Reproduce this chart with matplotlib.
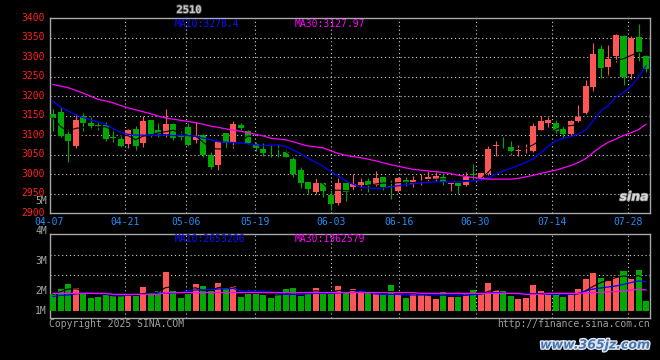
import numpy as np
import pandas as pd
import matplotlib
matplotlib.use("Agg")
import matplotlib.pyplot as plt
import matplotlib.patheffects as pe
from matplotlib.transforms import blended_transform_factory, ScaledTranslation

# ---------------- data ----------------
title = "2510"
opens = [3154, 3160, 3103, 3073, 3148, 3132, 3126, 3126, 3093, 3089,
         3077, 3117, 3079, 3139, 3113, 3103, 3128, 3100, 3121, 3087,
         3100, 3050, 3022, 3106, 3083, 3127, 3111, 3078, 3064, 3062,
         3062, 3057, 3039, 3010, 2980, 2955, 2976, 2946, 2925, 2976,
         2966, 2972, 2983, 2972, 2992, 2969, 2956, 2985, 2974, 2981,
         2987, 2987, 2993, 2975, 2976, 2972, 2999, 2989, 3000, 3073,
         3073, 3069, 3058, 3061, 3058, 3113, 3132, 3132, 3115, 3103,
         3135, 3158, 3224, 3321, 3276, 3304, 3355, 3256, 3353, 3303]
highs = [3167, 3173, 3116, 3154, 3156, 3147, 3133, 3133, 3117, 3097,
         3117, 3123, 3149, 3139, 3130, 3167, 3130, 3110, 3132, 3133,
         3104, 3056, 3083, 3106, 3135, 3132, 3113, 3083, 3079, 3075,
         3075, 3062, 3045, 3019, 2980, 2991, 2978, 2959, 2989, 2978,
         2999, 2989, 2989, 3008, 2993, 2985, 2993, 2993, 2995, 2999,
         3008, 3006, 3003, 2978, 2978, 3006, 3025, 3004, 3072, 3085,
         3096, 3085, 3075, 3076, 3132, 3149, 3147, 3139, 3123, 3138,
         3177, 3241, 3336, 3331, 3331, 3360, 3358, 3354, 3385, 3305]
lows = [3111, 3094, 3032, 3066, 3110, 3117, 3113, 3086, 3083, 3070,
        3067, 3063, 3070, 3094, 3096, 3096, 3088, 3088, 3072, 3080,
        3044, 3013, 3010, 3066, 3066, 3112, 3076, 3060, 3047, 3045,
        3045, 3045, 2993, 2965, 2948, 2950, 2942, 2907, 2921, 2931,
        2959, 2959, 2955, 2969, 2960, 2936, 2953, 2970, 2968, 2972,
        2982, 2982, 2972, 2956, 2950, 2969, 2985, 2985, 2998, 3047,
        3067, 3049, 3047, 3053, 3056, 3112, 3122, 3105, 3093, 3100,
        3133, 3154, 3213, 3246, 3248, 3289, 3229, 3245, 3291, 3263]
closes = [3145, 3099, 3086, 3139, 3130, 3124, 3124, 3090, 3092, 3073,
          3113, 3073, 3136, 3104, 3103, 3128, 3093, 3096, 3075, 3096,
          3049, 3018, 3083, 3079, 3128, 3118, 3080, 3068, 3055, 3061,
          3061, 3045, 3001, 2977, 2961, 2976, 2957, 2922, 2976, 2955,
          2974, 2980, 2972, 2991, 2968, 2968, 2991, 2978, 2985, 2983,
          2993, 2996, 2980, 2977, 2970, 2993, 2997, 3002, 3064, 3075,
          3071, 3060, 3061, 3063, 3123, 3135, 3139, 3111, 3103, 3135,
          3147, 3226, 3308, 3273, 3295, 3357, 3248, 3350, 3314, 3270]
ma10 = [3188, 3172, 3162, 3152, 3145, 3139, 3134, 3128, 3117, 3107,
        3102, 3100, 3100, 3100, 3100, 3100, 3099, 3099, 3099, 3097,
        3092, 3088, 3083, 3082, 3081, 3080, 3078, 3075, 3073, 3074,
        3075, 3071, 3062, 3052, 3040, 3030, 3020, 3006, 2995, 2982,
        2974, 2966, 2964, 2963, 2964, 2967, 2970, 2973, 2975, 2977,
        2979, 2980, 2980, 2980, 2980, 2981, 2983, 2985, 2990, 3000,
        3008, 3015, 3022, 3030, 3040, 3055, 3072, 3085, 3092, 3096,
        3103, 3114, 3138, 3163, 3176, 3198, 3210, 3225, 3250, 3278]
ma30 = [3230, 3226, 3222, 3215, 3208, 3200, 3192, 3188, 3183, 3176,
        3170, 3165, 3160, 3155, 3149, 3144, 3141, 3138, 3135, 3132,
        3128, 3123, 3120, 3116, 3113, 3110, 3106, 3102, 3098, 3092,
        3090, 3088, 3083, 3077, 3072, 3070, 3067, 3060, 3053, 3048,
        3045, 3042, 3038, 3034, 3029, 3024, 3020, 3016, 3012, 3010,
        3008, 3006, 3004, 3001, 2997, 2994, 2991, 2989, 2987, 2987,
        2987, 2987, 2989, 2993, 2997, 3002, 3006, 3010, 3016, 3022,
        3030, 3040, 3056, 3070, 3082, 3090, 3099, 3106, 3114, 3128]
volumes = [1.03, 1.30, 1.55, 1.35, 1.03, 0.87, 0.92, 1.00, 0.97, 1.00,
           1.03, 0.97, 1.40, 1.12, 1.20, 2.15, 1.20, 0.87, 1.03, 1.55,
           1.45, 1.20, 1.60, 1.35, 1.45, 0.92, 1.07, 1.03, 1.00, 0.87,
           1.07, 1.30, 1.35, 0.97, 1.07, 1.35, 1.12, 1.12, 1.45, 1.13,
           1.30, 1.20, 1.12, 1.05, 1.00, 1.50, 1.05, 0.85, 1.03, 0.98,
           0.98, 0.82, 1.15, 0.92, 0.92, 1.10, 1.25, 1.03, 1.60, 1.25,
           1.20, 0.97, 0.82, 0.87, 1.50, 1.20, 1.00, 1.00, 0.92, 1.08,
           1.30, 1.80, 2.10, 1.85, 1.70, 1.90, 2.20, 1.80, 2.25, 0.70]
vol_ma10 = [0.92, 0.98, 1.00, 1.05, 1.10, 1.10, 1.05, 1.05, 1.00, 1.00,
            1.00, 1.03, 1.03, 1.03, 1.08, 1.10, 1.10, 1.12, 1.20, 1.25,
            1.25, 1.27, 1.30, 1.30, 1.33, 1.20, 1.20, 1.20, 1.18, 1.15,
            1.08, 1.03, 1.03, 1.03, 1.07, 1.08, 1.08, 1.08, 1.10, 1.13,
            1.12, 1.20, 1.13, 1.05, 1.03, 1.03, 1.03, 1.00, 1.00, 1.00,
            1.00, 1.00, 1.00, 1.00, 1.00, 1.00, 1.02, 1.05, 1.10, 1.12,
            1.10, 1.07, 1.05, 1.05, 1.05, 1.03, 1.03, 1.03, 1.03, 1.03,
            1.08, 1.20, 1.30, 1.35, 1.40, 1.45, 1.53, 1.62, 1.70, 1.65]
vol_ma30 = [1.08, 1.08, 1.08, 1.08, 1.08, 1.08, 1.08, 1.08, 1.03, 1.03,
            1.03, 1.03, 1.03, 1.03, 1.03, 1.12, 1.12, 1.12, 1.12, 1.12,
            1.12, 1.12, 1.12, 1.12, 1.12, 1.12, 1.12, 1.12, 1.12, 1.12,
            1.12, 1.12, 1.12, 1.12, 1.12, 1.12, 1.12, 1.12, 1.12, 1.12,
            1.12, 1.12, 1.12, 1.12, 1.12, 1.12, 1.12, 1.12, 1.12, 1.08,
            1.08, 1.08, 1.08, 1.08, 1.08, 1.08, 1.08, 1.08, 1.08, 1.08,
            1.08, 1.08, 1.08, 1.03, 1.03, 1.03, 1.08, 1.08, 1.08, 1.08,
            1.08, 1.10, 1.12, 1.13, 1.15, 1.17, 1.20, 1.24, 1.28, 1.25]
date_idx = [0, 10, 18, 27, 37, 46, 56, 66, 76]
date_labels = ["04-07", "04-21", "05-06", "05-19", "06-03", "06-16", "06-30", "07-14", "07-28"]
price_ticks = [3400, 3350, 3300, 3250, 3200, 3150, 3100, 3050, 3000, 2950, 2900]
vol_labels = ["5M", "4M", "3M", "2M", "1M"]
vol_grid = [3, 2]
price_ma_text = ["MA10:3278.4", "MA30:3127.97"]
vol_ma_text = ["MA10:2653206", "MA30:1962579"]
footer_left = "Copyright 2025 SINA.COM"
footer_right = "http://finance.sina.com.cn"
watermark = "www.365jz.com"

# ---------------- style ----------------
W, H = 660, 360
RED = "#ff5555"
GREEN = "#00a800"
GRID = "#cfcfcf"
BORDER = "#a8a8a8"
MONO = "DejaVu Sans Mono"
FS = 7
vol_base = 0.2
vol_label_py = [201, 230.7, 260.7, 290.7, 310.7]

def fx(px):
    return px / W

def fy(py):
    return 1 - py / H

fig = plt.figure(figsize=(6.6, 3.6), dpi=100, facecolor="black")
ax = fig.add_axes([fx(50), fy(213), 600 / W, (213 - 18.3) / H])
axv = fig.add_axes([fx(50), fy(318.3), 600 / W, 84 / H])

n = len(closes)
x = np.arange(n)
o = np.array(opens, float)
c = np.array(closes, float)
h = np.array(highs, float)
l = np.array(lows, float)
up = c > o
cols = np.where(up, RED, GREEN)
tick_pos = np.array(date_idx) * 1.0141 - 0.5

for a in (ax, axv):
    a.set_facecolor("black")
    a.set_xlim(-0.4, 79.53)
    a.set_xticks([])
    a.tick_params(left=False, bottom=False)
    for s in a.spines.values():
        s.set_color(BORDER)
        s.set_linewidth(1.0)
    for p in tick_pos[1:]:
        a.axvline(p, color=GRID, lw=0.8, ls=(0, (1, 2.5)), zorder=1)

# ---- price panel ----
ax.set_ylim(2900, 3400)
ax.set_yticks(price_ticks)
ax.set_yticklabels([str(t) for t in price_ticks], color="#ff2020",
                   fontsize=FS, family=MONO)
ax.tick_params(axis="y", length=0, pad=4)
shift_up = ScaledTranslation(0, 1.5 / 100, fig.dpi_scale_trans)
for lab in ax.get_yticklabels():
    lab.set_transform(lab.get_transform() + shift_up)
for t in price_ticks[1:-1]:
    ax.axhline(t, color=GRID, lw=0.8, ls=(0, (1, 2.5)), zorder=1)

body_lo = np.minimum(o, c)
body_h = np.maximum(np.abs(c - o), 2.0)
ax.vlines(x, l, h, colors=cols, lw=0.8, zorder=2)
ax.bar(x, body_h, bottom=body_lo, width=0.8, color=cols, lw=0, zorder=3)

ma5 = pd.Series(c).rolling(5, min_periods=1).mean().values
ax.plot(x, ma5, color="black", lw=0.8, zorder=4)
ax.plot(x, ma10, color="#0000ff", lw=0.9, zorder=5)
ax.plot(x, ma30, color="#ff00ff", lw=0.9, zorder=5)

trans = blended_transform_factory(ax.transData, ax.transAxes)
for p, lab in zip(tick_pos, date_labels):
    ax.text(p, -0.047, lab, transform=trans, ha="center", va="center",
            color="#1e90ff", fontsize=FS, family=MONO, clip_on=False)

# ---- volume panel ----
axv.set_ylim(-0.165, 4.03)
axv.set_yticks([])
for g in vol_grid:
    axv.axhline(g, color=GRID, lw=0.8, ls=(0, (1, 2.5)), zorder=1)
vol = np.array(volumes)
axv.bar(x, vol - vol_base, bottom=vol_base, width=0.8, color=cols, lw=0, zorder=3)
vma5 = pd.Series(vol).rolling(5, min_periods=1).mean().values
axv.plot(x, vma5, color="black", lw=0.8, zorder=4)
axv.plot(x, vol_ma10, color="#0000ff", lw=0.9, zorder=5)
axv.plot(x, vol_ma30, color="#ff00ff", lw=0.9, zorder=5)

for lab, py in zip(vol_labels, vol_label_py):
    fig.text(fx(47), fy(py), lab, ha="right", va="center", color="#a8a8a8",
             fontsize=FS, family=MONO)

# ---- header / footer texts ----
fig.text(fx(189), fy(10), title, ha="center", va="center", color="#c8c8c8",
         fontsize=7.5, family=MONO, fontweight="bold",
         path_effects=[pe.withStroke(linewidth=1.2, foreground="#505050")])
fig.text(fx(175), fy(24), price_ma_text[0], ha="left", va="center",
         color="#1010ff", fontsize=FS, family=MONO)
fig.text(fx(295), fy(24), price_ma_text[1], ha="left", va="center",
         color="#ff00ff", fontsize=FS, family=MONO)
fig.text(fx(175), fy(238.5), vol_ma_text[0], ha="left", va="center",
         color="#1010ff", fontsize=FS, family=MONO)
fig.text(fx(295), fy(238.5), vol_ma_text[1], ha="left", va="center",
         color="#ff00ff", fontsize=FS, family=MONO)
fig.text(fx(49), fy(324), footer_left, ha="left", va="center",
         color="#a0a0a0", fontsize=FS, family=MONO)
fig.text(fx(650), fy(324), footer_right, ha="right", va="center",
         color="#a0a0a0", fontsize=FS, family=MONO)

# sina logo (light grey)
fig.text(fx(634), fy(197), "sina", ha="center", va="center", color="#d8d8d8",
         fontsize=9, fontweight="bold", style="italic", family="DejaVu Sans",
         path_effects=[pe.withStroke(linewidth=1.0, foreground="#808080")])

# watermark
fig.text(fx(595), fy(345), watermark, ha="center", va="center",
         color="#4a74b0", fontsize=9, fontweight="bold", style="italic",
         family="DejaVu Sans",
         path_effects=[pe.withStroke(linewidth=2.0, foreground="#dfe8f2")])

fig.savefig("out.png", dpi=100, facecolor="black")
